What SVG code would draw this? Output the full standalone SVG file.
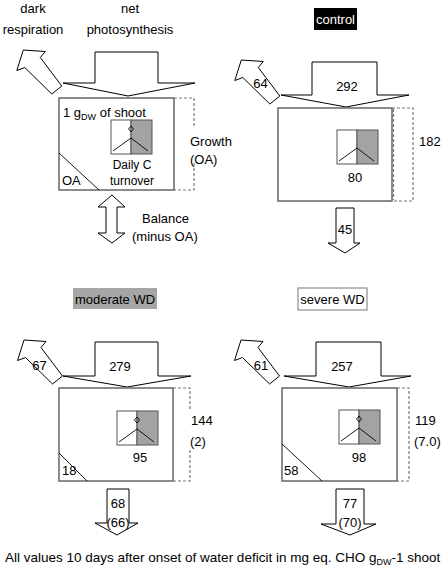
<svg xmlns="http://www.w3.org/2000/svg" width="448" height="575" viewBox="0 0 448 575">
<style>
text{font-family:"Liberation Sans",Arial,sans-serif;font-size:13px;fill:#000}
.c{text-anchor:middle}
.sm{font-size:12px}
.sub{font-size:9px}
.arrow{fill:#fff;stroke:#000;stroke-width:1;stroke-linejoin:miter}
.box{fill:#fff;stroke:#666;stroke-width:1.5}
.dash{fill:none;stroke:#777;stroke-width:1.2;stroke-dasharray:3,2}
.ln{fill:none;stroke:#000;stroke-width:0.9}
.half{stroke:#555;stroke-width:1}
</style>
<defs>
<path id="resp" class="arrow" d="M0,0 L22,1.5 L17,7.5 L38.5,36 L28.5,44 L1.5,17.5 L-6.5,20.5 Z"/>
<g id="turn">
<rect x="0" y="0" width="20" height="34" fill="#fff" class="half"/>
<rect x="20" y="0" width="21" height="34" fill="#a3a3a3" class="half"/>
<path class="ln" d="M2,31 L20,18 L37,31"/>
</g>
</defs>

<!-- Panel 1: legend -->
<g id="legend">
<text x="33" y="13" class="c">dark</text>
<text x="33" y="34" class="c">respiration</text>
<text x="130" y="13" class="c">net</text>
<text x="130" y="34" class="c">photosynthesis</text>
<use href="#resp" x="23.3" y="50"/>
<path class="arrow" d="M63,83 L95,83 L95,52 L158,52 L158,83 L195,83 L128,96 Z"/>
<rect class="box" x="59" y="98" width="115" height="92"/>
<path class="dash" d="M174,98 H194 V128 M194,163 V190 H174"/>
<text x="190" y="146">Growth</text>
<text x="190" y="164">(OA)</text>
<text x="63" y="117">1 g<tspan class="sub" dy="3">DW</tspan><tspan dy="-3"> of shoot</tspan></text>
<use href="#turn" x="111" y="120"/>
<path class="ln" d="M131,126 L133.5,129 L131,132 L128.5,129 Z"/>
<text x="132" y="169" class="c sm">Daily C</text>
<text x="132" y="185" class="c sm">turnover</text>
<path class="ln" d="M59,153 L99,190"/>
<text x="62" y="185">OA</text>
<path class="arrow" d="M112,195 L125,207 L117,207 L117,233 L125,233 L112,243 L98,233 L106,233 L106,207 L98,207 Z"/>
<text x="142" y="223">Balance</text>
<text x="132" y="241">(minus OA)</text>
</g>

<!-- Panel 2: control -->
<g id="control">
<rect x="314" y="8" width="43" height="22" fill="#000"/>
<text x="335.5" y="24" class="c" style="fill:#fff">control</text>
<use href="#resp" x="241.3" y="60"/>
<text x="260.5" y="88" class="c">64</text>
<path class="arrow" d="M281,95 L312,95 L312,62 L377,62 L377,95 L409,95 L346,107 Z"/>
<text x="347" y="91" class="c">292</text>
<rect class="box" x="278" y="108" width="114" height="93"/>
<path class="dash" d="M392,108 H413 V201 H392 M393.5,109 V200"/>
<text x="419" y="146">182</text>
<use href="#turn" x="337" y="130"/>
<text x="355" y="182" class="c">80</text>
<path class="arrow" d="M336,208 L354,208 L354,243 L360,243 L345,253 L328,243 L336,243 Z"/>
<text x="345" y="234" class="c">45</text>
</g>

<!-- Panel 3: moderate WD -->
<g id="moderate">
<rect x="73" y="288" width="84" height="21" fill="#a6a6a6"/>
<text x="115" y="304" class="c">moderate WD</text>
<use href="#resp" x="24" y="340"/>
<text x="39.5" y="370" class="c">67</text>
<path class="arrow" d="M63,376 L95,376 L95,342 L158,342 L158,376 L191,376 L127,387 Z"/>
<text x="120" y="371" class="c">279</text>
<rect class="box" x="59" y="388" width="114" height="93"/>
<path class="dash" d="M173,388 H190 V410 M190,450 V481 H173"/>
<text x="191" y="425">144</text>
<text x="190" y="446">(2)</text>
<use href="#turn" x="117" y="411"/>
<path class="ln" d="M137,417 L139.5,420 L137,423 L134.5,420 Z"/>
<text x="140" y="462" class="c">95</text>
<path class="ln" d="M59,453 L87,481"/>
<text x="62" y="475">18</text>
<path class="arrow" d="M107,489 L129,489 L129,523 L138,523 L117,535 L95,523 L107,523 Z"/>
<text x="118" y="508" class="c">68</text>
<text x="118" y="527" class="c">(66)</text>
</g>

<!-- Panel 4: severe WD -->
<g id="severe">
<rect x="298" y="288" width="69" height="22" fill="#fff" stroke="#777" stroke-width="1"/>
<text x="332.5" y="304" class="c">severe WD</text>
<use href="#resp" x="241" y="340"/>
<text x="261" y="370" class="c">61</text>
<path class="arrow" d="M284,376 L316,376 L316,342 L381,342 L381,376 L411,376 L349,387 Z"/>
<text x="342" y="371" class="c">257</text>
<rect class="box" x="282" y="388" width="115" height="93"/>
<path class="dash" d="M397,388 H409 V481 H397"/>
<text x="415" y="425">119</text>
<text x="414" y="446">(7.0)</text>
<use href="#turn" x="339" y="410"/>
<path class="ln" d="M359,416 L361.5,419 L359,422 L356.5,419 Z"/>
<text x="359" y="462" class="c">98</text>
<path class="ln" d="M282,444 L322,481"/>
<text x="284" y="475">58</text>
<path class="arrow" d="M336,489 L364,489 L364,524 L376,524 L350,535 L321,524 L336,524 Z"/>
<text x="350" y="508" class="c">77</text>
<text x="350" y="527" class="c">(70)</text>
</g>

<g id="connectors"></g>

<g id="footnote">
<text x="5" y="562" style="font-size:13.5px">All values 10 days after onset of water deficit in mg eq. CHO g<tspan class="sub" dy="3">DW</tspan><tspan dy="-3">-1 shoot</tspan></text>
</g>
</svg>
